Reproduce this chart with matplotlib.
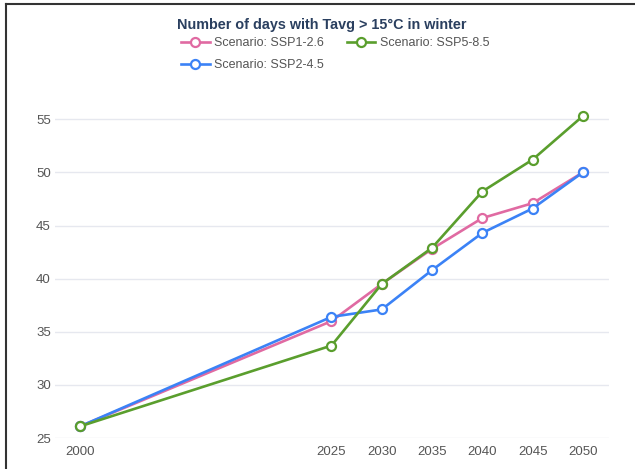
import matplotlib
matplotlib.use('AGG')
import matplotlib.pyplot as plt
from matplotlib.lines import Line2D

years = [2000, 2025, 2030, 2035, 2040, 2045, 2050]
ssp126 = [26.1, 36.0, 39.5, 42.8, 45.7, 47.1, 50.0]
ssp245 = [26.1, 36.4, 37.1, 40.8, 44.3, 46.6, 50.0]
ssp585 = [26.1, 33.7, 39.5, 42.9, 48.2, 51.2, 55.3]
yticks = [25, 30, 35, 40, 45, 50, 55]

plt.rcParams['font.family'] = ['Liberation Sans', 'DejaVu Sans']

fig = plt.figure(figsize=(6.35, 4.69), dpi=100)
ax = fig.add_axes([55/635, 31/469, 554/635, 340/469])

series = [
    ('Scenario: SSP1-2.6', ssp126, '#e06aa2'),
    ('Scenario: SSP2-4.5', ssp245, '#3b82f6'),
    ('Scenario: SSP5-8.5', ssp585, '#5a9e2d'),
]
handles = []
for name, vals, col in series:
    h, = ax.plot(years, vals, color=col, lw=1.9, marker='o', ms=6.5,
                 mfc='white', mec=col, mew=1.6, label=name)
    handles.append(h)

ax.set_xlim(1997.5, 2052.6)
ax.set_ylim(25, 57)
ax.set_xticks(years)
ax.set_yticks(yticks)
ax.tick_params(length=0, labelsize=9.5, labelcolor='#555555', pad=6)
ax.tick_params(axis='y', pad=3)
ax.grid(axis='y', color='#e6e8ef', lw=1)
ax.set_axisbelow(True)
for s in ax.spines.values():
    s.set_visible(False)

fig.text(0.507, 1 - 25/469, 'Number of days with Tavg > 15°C in winter',
         ha='center', va='center', fontsize=10.4, fontweight='bold', color='#2a3f5f')
fig.legend(handles=handles, ncol=2, loc='upper left',
           bbox_to_anchor=(181/635, 1 - 37/469), frameon=False,
           fontsize=9, labelcolor='#555555', handlelength=2.3,
           handletextpad=0.35, columnspacing=1.8, labelspacing=0.8,
           borderpad=0, borderaxespad=0)

# screenshot border
fig.add_artist(Line2D([6/635, 6/635], [0, 1 - 4/469], transform=fig.transFigure,
                      color='#333333', lw=1.5))
fig.add_artist(Line2D([6/635, 1], [1 - 4/469, 1 - 4/469], transform=fig.transFigure,
                      color='#333333', lw=1.5))

fig.savefig('out.png', dpi=100)
